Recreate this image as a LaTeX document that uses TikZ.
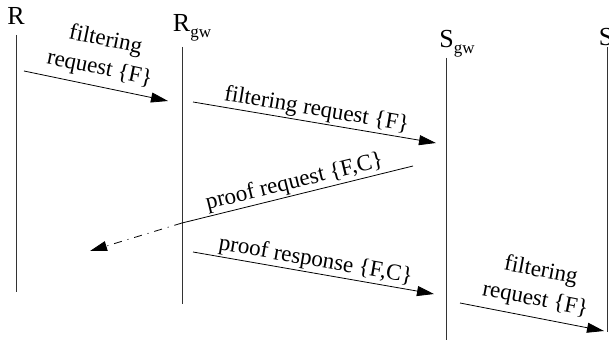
\documentclass[tikz,border=0pt]{standalone}
\usepackage{fontspec}
\setmainfont{Liberation Serif}
\usetikzlibrary{arrows.meta}
\newcommand{\gwsub}{\raisebox{-6pt}{\fontsize{17}{19}\selectfont gw}}

\begin{document}
\begin{tikzpicture}[x=1pt,y=-1pt,line width=0.8pt,
  every node/.style={font=\fontsize{23}{29}\selectfont,inner sep=1.5pt},
  party/.style={font=\fontsize{26}{29}\selectfont,inner sep=0pt,anchor=base},
  msg/.style={midway,above,sloped,align=center},
  lifeline/.style={black!80},
  >={Triangle[length=17pt,width=10pt]}]
\useasboundingbox (0,0) rectangle (609,347);
% Define all the parties.
% Requester
\node[party] (r) at (16,25) {R};
% Requester gateway
\node[party] (rgw) at (192,32) {R\gwsub};
% Source gateway
\node[party] (sgw) at (457,48) {S\gwsub};
% Source
\node[party] (s) at (606,46) {S};
% Lifelines
\coordinate (r_top) at (16,35);    \coordinate (r_bot) at (16,292);
\coordinate (rgw_top) at (182,47); \coordinate (rgw_bot) at (182,304);
\coordinate (sgw_top) at (446,58); \coordinate (sgw_bot) at (446,340);
\coordinate (s_top) at (607,47);   \coordinate (s_bot) at (607,332);
% Message ends
\coordinate (m1_a) at (24,71);   \coordinate (m1_b) at (168,101);
\coordinate (m2_a) at (193,102); \coordinate (m2_b) at (436,143);
\coordinate (m3_a) at (413,166); \coordinate (m3_b) at (182,223);
\coordinate (m3_c) at (90,251);
\coordinate (m4_a) at (193,252); \coordinate (m4_b) at (434,294);
\coordinate (m5_a) at (460,303); \coordinate (m5_b) at (604,331);
% Draw the lifelines
\draw[lifeline] (r_top) -- (r_bot);
\draw[lifeline] (rgw_top) -- (rgw_bot);
\draw[lifeline] (sgw_top) -- (sgw_bot);
\draw[lifeline] (s_top) -- (s_bot);
% Draw the arrows
\draw[->] (m1_a) -- node[msg,above=5pt] {filtering\\request \{F\}} (m1_b);
\draw[->] (m2_a) -- node[msg] {filtering request \{F\}} (m2_b);
\draw (m3_a) -- node[msg] {proof request \{F,C\}} (m3_b);
\draw[->,dash pattern=on 8pt off 6pt on 1pt off 6pt] (m3_b) -- (m3_c);
\draw[->] (m4_a) -- node[msg] {proof response \{F,C\}} (m4_b);
\draw[->] (m5_a) -- node[msg,above=5pt] {filtering\\request \{F\}} (m5_b);
\end{tikzpicture}
\end{document}
